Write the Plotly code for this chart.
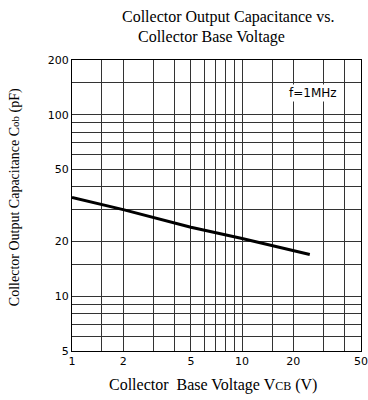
import plotly.graph_objects as go

# Data
vcb = [1, 2, 5, 10, 25]
cob = [35, 30, 24, 20.8, 17]

x_grid = [1, 1.5, 2, 3, 4, 5, 6, 7, 8, 9, 10, 15, 20, 30, 40, 50]
x_labels = {1: "1", 2: "2", 5: "5", 10: "10", 20: "20", 50: "50"}
y_grid = [5, 6, 7, 8, 9, 10, 15, 20, 30, 40, 50, 60, 70, 80, 90, 100, 150, 200]
y_labels = {5: "5", 10: "10", 20: "20", 50: "50", 100: "100", 200: "200"}

fig = go.Figure()
fig.add_trace(go.Scatter(x=vcb, y=cob, mode="lines",
                         line=dict(color="black", width=3), showlegend=False))

tickfont = dict(family="DejaVu Sans", size=11, color="black")
serif = "Liberation Serif"

fig.update_xaxes(type="log", range=[0, 1.69897],
                 tickvals=x_grid, ticktext=[x_labels.get(v, "") for v in x_grid],
                 showgrid=True, gridcolor="#333", gridwidth=1,
                 showline=True, linecolor="black", linewidth=1, mirror=True,
                 ticks="", tickfont=tickfont, zeroline=False)
fig.update_yaxes(type="log", range=[0.69897, 2.30103],
                 tickvals=y_grid, ticktext=[y_labels.get(v, "") for v in y_grid],
                 showgrid=True, gridcolor="#333", gridwidth=1,
                 showline=True, linecolor="black", linewidth=1, mirror=True,
                 ticks="", tickfont=tickfont, zeroline=False)

fig.update_layout(
    width=368, height=400,
    margin=dict(l=72, r=7, t=60, b=49, autoexpand=False),
    plot_bgcolor="white", paper_bgcolor="white",
    annotations=[
        dict(text="Collector Output Capacitance vs.", xref="paper", yref="paper",
             x=0.54, y=1.148, showarrow=False, xanchor="center", yanchor="middle",
             font=dict(family=serif, size=16, color="black")),
        dict(text="Collector Base Voltage", xref="paper", yref="paper",
             x=0.484, y=1.079, showarrow=False, xanchor="center", yanchor="middle",
             font=dict(family=serif, size=16, color="black")),
        dict(text="f=1MHz", xref="paper", yref="paper",
             x=0.834, y=0.887, showarrow=False, xanchor="center", yanchor="middle",
             bgcolor="white",
             font=dict(family="DejaVu Sans", size=12, color="black")),
        dict(text="Collector Output Capacitance C<span style='font-size:11px'>ob</span> (pF)",
             xref="paper", yref="paper", x=-0.197, y=0.529, textangle=-90,
             showarrow=False, xanchor="center", yanchor="middle",
             font=dict(family=serif, size=14, color="black")),
        dict(text="Collector  Base Voltage V<span style='font-size:12px'>CB</span> (V)",
             xref="paper", yref="paper", x=0.488, y=-0.117,
             showarrow=False, xanchor="center", yanchor="middle",
             font=dict(family=serif, size=16, color="black")),
    ],
)

fig.write_html("out.html", config={"displayModeBar": False},
               post_script="document.body.style.margin='0';document.body.style.padding='0';")
